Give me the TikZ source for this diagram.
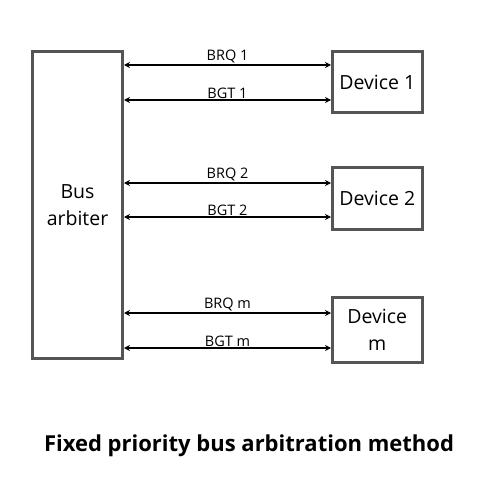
\documentclass[tikz,border=0pt]{standalone}
\usepackage{fontspec}
\setmainfont{Open Sans}
\usetikzlibrary{arrows.meta}
\definecolor{boxgray}{HTML}{555555}
\tikzset{
  blk/.style={draw=boxgray, line width=3pt, fill=white, rectangle, inner sep=0pt,
    font=\fontsize{19.5}{27}\selectfont, align=center},
  sig/.style={draw=black, line width=1.6pt, {Stealth[length=6pt,width=6pt]}-{Stealth[length=6pt,width=6pt]}},
  lbl/.style={font=\fontsize{14.5}{16}\selectfont, inner sep=1pt, anchor=south}
}
\begin{document}
\begin{tikzpicture}[x=1pt,y=-1pt]
\useasboundingbox (0,0) rectangle (500,500);
\fill[white] (0,0) rectangle (500,500);
% boxes
\node[blk, minimum width=90pt, minimum height=307pt] (arb) at (77.5,205) {Bus\\arbiter};
\node[blk, minimum width=89.5pt, minimum height=61pt] (d1) at (377.25,82) {Device 1};
\node[blk, minimum width=89.5pt, minimum height=62.5pt] (d2) at (377.25,198.25) {Device 2};
\node[blk, minimum width=89.5pt, minimum height=65pt] (dm) at (377.25,330) {Device\\m};
% arrow end coordinates
\coordinate (a1) at (124,65);   \coordinate (b1) at (331,65);
\coordinate (a2) at (124,100);  \coordinate (b2) at (331,100);
\coordinate (a3) at (124,183);  \coordinate (b3) at (331,183);
\coordinate (a4) at (124,217);  \coordinate (b4) at (331,217);
\coordinate (a5) at (124,313);  \coordinate (b5) at (331,313);
\coordinate (a6) at (124,348);  \coordinate (b6) at (331,348);
\draw[sig] (a1) -- node[lbl] {BRQ 1} (b1);
\draw[sig] (a2) -- node[lbl] {BGT 1} (b2);
\draw[sig] (a3) -- node[lbl] {BRQ 2} (b3);
\draw[sig] (a4) -- node[lbl] {BGT 2} (b4);
\draw[sig] (a5) -- node[lbl] {BRQ m} (b5);
\draw[sig] (a6) -- node[lbl] {BGT m} (b6);
% title
\node[font=\fontsize{22}{26}\selectfont\bfseries, anchor=base] (title) at (249,451) {Fixed priority bus arbitration method};
\end{tikzpicture}
\end{document}
